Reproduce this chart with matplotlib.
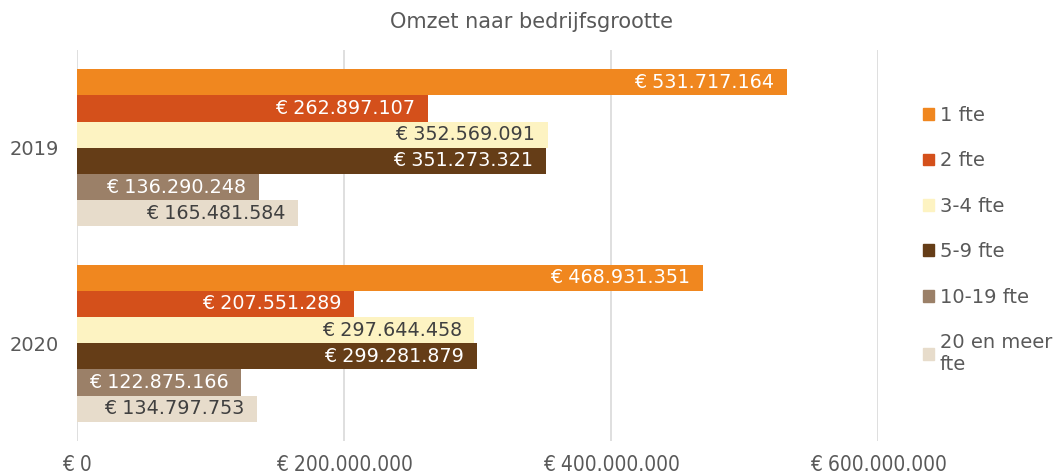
import matplotlib.pyplot as plt
import matplotlib.patches as mpatches
import numpy as np
from matplotlib.ticker import FuncFormatter

jaren = ['2019', '2020']
groottes = ['1 fte', '2 fte', '3-4 fte', '5-9 fte', '10-19 fte', '20 en meer\nfte']
omzet_2019 = [531717164, 262897107, 352569091, 351273321, 136290248, 165481584]
omzet_2020 = [468931351, 207551289, 297644458, 299281879, 122875166, 134797753]

kleuren = ['#F0871F', '#D4501B', '#FDF3C2', '#653D17', '#9B8068', '#E7DCCB']
tekstkleuren = ['white', 'white', '#404040', 'white', 'white', '#404040']
GRIJS = '#595959'

plt.rcParams['font.family'] = ['DejaVu Sans']

fig = plt.figure(figsize=(10.53, 4.76), dpi=100)
ax = fig.add_axes([0.0731, 0.0735, 0.7607, 0.8215])

waarden = np.array([omzet_2019, omzet_2020])  # jaar x grootte
y = np.arange(len(jaren))
h = 0.805 / len(groottes)

for i, naam in enumerate(groottes):
    pos = y + (i - (len(groottes) - 1) / 2) * h
    vals = waarden[:, i]
    ax.barh(pos, vals, height=h, color=kleuren[i], label=naam, zorder=3)
    for p, v in zip(pos, vals):
        tekst = "€ " + f"{v:,}".replace(',', '.')
        ax.annotate(tekst, (v, p), xytext=(-9, 0), textcoords='offset points',
                    ha='right', va='center', fontsize=13.8, color=tekstkleuren[i], zorder=4)

ax.set_xlim(0, 600000000)
ax.set_ylim(-0.5, 1.5)
ax.invert_yaxis()
ax.set_yticks(y)
ax.set_yticklabels(jaren, fontsize=14, color=GRIJS)
ax.set_xticks([0, 200000000, 400000000, 600000000])
ax.xaxis.set_major_formatter(FuncFormatter(lambda v, _: "€ " + f"{int(v):,}".replace(',', '.')))
for lbl in ax.get_xticklabels():
    lbl.set_fontstretch('condensed')
    lbl.set_fontsize(15)
    lbl.set_color(GRIJS)
ax.tick_params(axis='both', length=0)
ax.tick_params(axis='x', pad=10)
ax.tick_params(axis='y', pad=13)
ax.grid(axis='x', color='#D9D9D9', linewidth=1.2, zorder=0)
for s in ax.spines.values():
    s.set_visible(False)

fig.suptitle("Omzet naar bedrijfsgrootte", x=0.505, y=0.975, fontsize=15, color=GRIJS)

handles = [mpatches.Patch(color=c, label=l) for c, l in zip(kleuren, groottes)]
fig.legend(handles=handles, loc='upper left', bbox_to_anchor=(0.8695, 0.794),
           frameon=False, fontsize=14, labelcolor=GRIJS, handlelength=0.55, handleheight=0.55,
           handletextpad=0.3, labelspacing=1.36, borderaxespad=0)

fig.savefig("out.png", dpi=100)
